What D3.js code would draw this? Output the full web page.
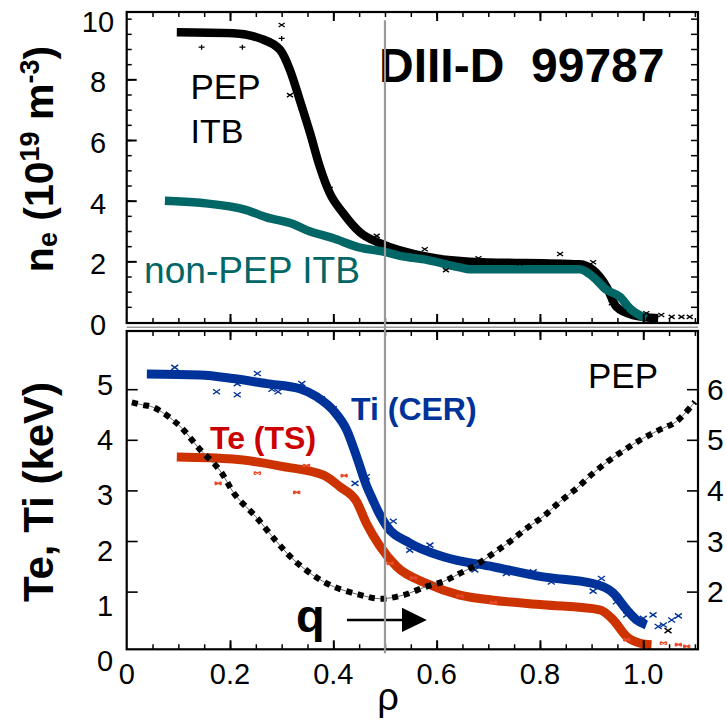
<!DOCTYPE html>
<html><head><meta charset="utf-8">
<script src="https://cdn.jsdelivr.net/npm/d3@7"></script>
<style>
html,body{margin:0;padding:0;background:#fff;}
text{font-family:"Liberation Sans",Arial,sans-serif;}
</style></head>
<body><div id="chart"></div>
<script>
// ---------- DATA ----------
// top panel: electron density n_e (10^19 m^-3) vs rho
const pepRho  = [0.097,0.206,0.258,0.297,0.316,0.335,0.355,0.374,0.393,0.419,0.452,0.49,0.581,0.664,0.877,0.903,0.929,0.948,0.98,1.029];
const pepNe   = [9.55,9.52,9.35,8.97,8.31,7.32,6.23,5.11,4.25,3.59,2.95,2.6,2.15,1.99,1.9,1.71,1.16,0.5,0.23,0.12];
const nonRho  = [0.074,0.142,0.232,0.271,0.322,0.348,0.4,0.452,0.497,0.529,0.581,0.645,0.664,0.877,0.903,0.929,0.955,0.974,1.006];
const nonNe   = [4.0,3.93,3.69,3.45,3.23,3.03,2.76,2.45,2.32,2.18,2.05,1.8,1.74,1.74,1.49,1.06,0.83,0.45,0.12];
const neXRho  = [0.3,0.316,0.393,0.484,0.577,0.618,0.681,0.761,0.839,0.903,0.939,0.961,1.006,1.035,1.055,1.074,1.09];
const neXVal  = [9.79,7.48,4.39,2.84,2.4,1.71,2.1,1.93,2.24,1.97,0.62,0.34,0.29,0.23,0.17,0.17,0.17];
const nePRho  = [0.145,0.224,0.3];
const nePVal  = [9.06,9.06,9.35];

// bottom panel: Ti (CER), Te (TS) in keV, q on right axis
const tiRho = [0.039,0.142,0.206,0.271,0.335,0.368,0.4,0.426,0.445,0.464,0.477,0.49,0.503,0.548,0.613,0.71,0.806,0.903,0.942,0.968,0.987,1.006];
const tiVal = [5.3,5.28,5.21,5.11,5.01,4.85,4.58,4.19,3.67,3.1,2.8,2.52,2.3,1.96,1.69,1.49,1.29,1.16,0.97,0.64,0.44,0.34];
const teRho = [0.097,0.206,0.303,0.381,0.413,0.445,0.464,0.49,0.523,0.581,0.645,0.71,0.806,0.916,0.942,0.968,0.994,1.016];
const teVal = [3.66,3.62,3.47,3.3,3.07,2.78,2.35,1.9,1.49,1.16,0.93,0.83,0.74,0.64,0.44,0.11,-0.02,-0.05];
const tiPtRho = [0.093,0.174,0.214,0.214,0.253,0.281,0.293,0.339,0.377,0.4,0.445,0.442,0.464,0.516,0.548,0.587,0.674,0.735,0.787,0.822,0.903,0.919,0.948,0.968,1.0,1.019,1.029,1.039,1.055,1.068];
const tiPtVal = [5.43,4.95,5.11,4.89,5.31,5.0,4.95,5.11,4.81,4.61,3.66,3.14,3.27,2.39,1.82,1.92,1.43,1.36,1.39,1.19,1.01,1.26,0.80,0.54,0.47,0.54,0.31,0.34,0.44,0.52];
const tePtRho = [0.177,0.253,0.329,0.348,0.421,0.51,0.555,0.645,0.71,0.968,1.039,1.068,1.084];
const tePtVal = [3.14,3.34,2.96,3.49,3.29,1.56,1.27,0.91,0.78,0.05,-0.02,-0.05,-0.08];
const blkPtRho = [1.048];
const blkPtVal = [0.23];
const qRho = [0.01,0.03,0.052,0.1,0.14,0.18,0.21,0.25,0.29,0.32,0.36,0.4,0.45,0.49,0.535,0.58,0.613,0.645,0.677,0.71,0.742,0.774,0.806,0.839,0.871,0.903,0.935,0.968,1.0,1.032,1.064,1.1];
const qVal = [5.74,5.69,5.64,5.3,4.83,4.4,3.91,3.48,2.99,2.66,2.33,2.1,1.94,1.86,1.93,2.1,2.2,2.36,2.53,2.76,2.99,3.25,3.48,3.78,4.04,4.34,4.6,4.83,5.03,5.2,5.36,5.75];

const xTickLabels = ["0","0.2","0.4","0.6","0.8","1.0"];
const xTickVals   = [0,0.2,0.4,0.6,0.8,1.0];
const neTickVals  = [0,2,4,6,8,10];
const tTickVals   = [0,1,2,3,4,5];
const qTickVals   = [2,3,4,5,6];

// ---------- SCALES ----------
const W=727,H=721;
const x  = d3.scaleLinear([0,1.106],[126.7,698]);
const yN = d3.scaleLinear([-0.033,10.22],[323,12]);
const yT = d3.scaleLinear([-0.14,6.15],[649.3,331]);
const yQ = d3.scaleLinear([0.86,7.15],[649.3,331]);
const yTlab = d3.scaleLinear([0,5],[661,385]);

const svg = d3.select("#chart").append("svg").attr("width",W).attr("height",H);

const zip = (a,b)=>a.map((v,i)=>[v,b[i]]);
const cTi="#003399", cTe="#cc3300", cTeal="#006666", cTeTxt="#cc0000", cTeMk="#e84a2a";

// ---------- TOP PANEL ----------
const lineN = d3.line().x(d=>x(d[0])).y(d=>yN(d[1])).curve(d3.curveMonotoneX);
svg.append("path").attr("d",lineN(zip(pepRho,pepNe))).attr("fill","none").attr("stroke","#000").attr("stroke-width",8.5).attr("stroke-linejoin","round");
svg.append("path").attr("d",lineN(zip(nonRho,nonNe))).attr("fill","none").attr("stroke",cTeal).attr("stroke-width",8.5).attr("stroke-linejoin","round");

const plusMark = "M-3,0L3,0M0,-2.5L0,2.5";
svg.append("g").selectAll("path").data(zip(neXRho,neXVal)).join("path")
  .attr("transform",d=>`translate(${x(d[0])},${yN(d[1])})`).attr("d","M-3,-2L3,2M-3,2L3,-2").attr("stroke","#000").attr("stroke-width",1.3);
svg.append("g").selectAll("path").data(zip(nePRho,nePVal)).join("path")
  .attr("transform",d=>`translate(${x(d[0])},${yN(d[1])})`).attr("d",plusMark).attr("stroke","#000").attr("stroke-width",1.3);

// ---------- BOTTOM PANEL ----------
const lineT = d3.line().x(d=>x(d[0])).y(d=>yT(d[1])).curve(d3.curveMonotoneX);
svg.append("path").attr("d",lineT(zip(tiRho,tiVal))).attr("fill","none").attr("stroke",cTi).attr("stroke-width",9).attr("stroke-linejoin","round");
svg.append("path").attr("d",lineT(zip(teRho,teVal))).attr("fill","none").attr("stroke",cTe).attr("stroke-width",9).attr("stroke-linejoin","round");

svg.append("g").selectAll("path").data(zip(tiPtRho,tiPtVal)).join("path")
  .attr("transform",d=>`translate(${x(d[0])},${yT(d[1])})`).attr("d","M-3.5,-2.5L3.5,2.5M-3.5,2.5L3.5,-2.5").attr("stroke",cTi).attr("stroke-width",1.4);
svg.append("g").selectAll("path").data(zip(tePtRho,tePtVal)).join("path")
  .attr("transform",d=>`translate(${x(d[0])},${yT(d[1])})`).attr("d","M-3,-1.5L3,1.5M-3,1.5L3,-1.5M-3,-1.5L-3,1.5M3,-1.5L3,1.5").attr("stroke",cTeMk).attr("stroke-width",1.4);
svg.append("g").selectAll("path").data(zip(blkPtRho,blkPtVal)).join("path")
  .attr("transform",d=>`translate(${x(d[0])},${yT(d[1])})`).attr("d","M-3.5,-2.5L3.5,2.5M-3.5,2.5L3.5,-2.5").attr("stroke","#000").attr("stroke-width",1.4);

const lineQ = d3.line().x(d=>x(d[0])).y(d=>yQ(d[1])).curve(d3.curveCatmullRom);
const qd = lineQ(zip(qRho,qVal));
svg.append("path").attr("d",qd).attr("fill","none").attr("stroke","#666").attr("stroke-width",1);
svg.append("path").attr("d",qd).attr("fill","none").attr("stroke","#000").attr("stroke-width",6).attr("stroke-dasharray","6,5.7");

// ---------- FRAMES & AXES ----------
function frame(y0,y1){
  svg.append("rect").attr("x",x(0)).attr("y",y0).attr("width",x(1.106)-x(0)).attr("height",y1-y0)
    .attr("fill","none").attr("stroke","#000").attr("stroke-width",2.2);
}
frame(yN.range()[1],yN.range()[0]);
frame(yT.range()[1],yT.range()[0]);
svg.append("line").attr("x1",x(0)).attr("x2",x(1.106)).attr("y1",327.3).attr("y2",327.3).attr("stroke","#999").attr("stroke-width",1.6);

const minorX = d3.range(1,23).map(i=>+(i*0.05).toFixed(2)).filter(v=>v<=1.1);
const majorX = [0.2,0.4,0.6,0.8,1.0];
function styleAxis(g,w){ g.select(".domain").remove(); g.selectAll("line").attr("stroke","#000").attr("stroke-width",w); }
function xTicks(yPos, gen){
  svg.append("g").attr("transform",`translate(0,${yPos})`).call(gen(x).tickValues(minorX).tickSize(5).tickFormat("")).call(g=>styleAxis(g,1.5));
  svg.append("g").attr("transform",`translate(0,${yPos})`).call(gen(x).tickValues(majorX).tickSize(9).tickFormat("")).call(g=>styleAxis(g,2));
}
xTicks(yN.range()[0], d3.axisTop);
xTicks(yN.range()[1], d3.axisBottom);
xTicks(yT.range()[0], d3.axisTop);
xTicks(yT.range()[1], d3.axisBottom);

const neMinor = d3.range(1,21).map(i=>i*0.5);
svg.append("g").attr("transform",`translate(${x(0)},0)`).call(d3.axisRight(yN).tickValues(neMinor).tickSize(5).tickFormat("")).call(g=>styleAxis(g,1.5));
svg.append("g").attr("transform",`translate(${x(0)},0)`).call(d3.axisRight(yN).tickValues([2,4,6,8]).tickSize(10).tickFormat("")).call(g=>styleAxis(g,2));
svg.append("g").attr("transform",`translate(${x(1.106)},0)`).call(d3.axisLeft(yN).tickValues(neMinor).tickSize(7).tickFormat("")).call(g=>styleAxis(g,1.5));
svg.append("g").attr("transform",`translate(${x(0)},0)`).call(d3.axisRight(yT).tickValues([1,2,3,4,5]).tickSize(11).tickFormat("")).call(g=>styleAxis(g,1.6));
svg.append("g").attr("transform",`translate(${x(1.106)},0)`).call(d3.axisLeft(yQ).tickValues(qTickVals).tickSize(11).tickFormat("")).call(g=>styleAxis(g,1.6));

// tick labels
const lab = svg.append("g").attr("font-size",29).attr("fill","#000");
lab.selectAll(".ne").data(neTickVals).join("text").attr("x",98).attr("y",d=>yN(d)+3)
  .attr("text-anchor","middle").attr("dominant-baseline","central").text(d=>d);
lab.selectAll(".tt").data(tTickVals).join("text").attr("x",105).attr("y",d=>yTlab(d))
  .attr("text-anchor","middle").attr("dominant-baseline","central").text(d=>d);
lab.selectAll(".xx").data(xTickVals).join("text").attr("x",d=>x(d)).attr("y",684)
  .attr("text-anchor","middle").text((d,i)=>xTickLabels[i]);
lab.selectAll(".qq").data(qTickVals).join("text").attr("x",707).attr("y",d=>yQ(d))
  .attr("dominant-baseline","central").attr("font-size",30).text(d=>d);

// axis titles
const t1 = svg.append("text").attr("transform","translate(53,159) rotate(-90)").attr("text-anchor","middle")
  .attr("font-size",41).attr("font-weight","bold");
t1.append("tspan").text("n");
t1.append("tspan").attr("font-size",27).attr("dy",4).text("e");
t1.append("tspan").attr("dy",-4).text(" (10");
t1.append("tspan").attr("font-size",27).attr("dy",-14).text("19");
t1.append("tspan").attr("dy",14).text(" m");
t1.append("tspan").attr("font-size",27).attr("dy",-14).text("-3");
t1.append("tspan").attr("dy",14).text(")");

svg.append("text").attr("transform","translate(53,492) rotate(-90)").attr("text-anchor","middle")
  .attr("font-size",42).attr("font-weight","bold").text("Te, Ti (keV)");

svg.append("text").attr("x",388).attr("y",710).attr("text-anchor","middle").attr("font-size",38).text("ρ");

// annotations
svg.append("text").attr("x",379).attr("y",81.7).attr("font-size",48).attr("font-weight","bold")
  .style("white-space","pre").text("DIII-D  99787");
svg.append("text").attr("x",190.5).attr("y",99).attr("font-size",35).text("PEP");
svg.append("text").attr("x",190.5).attr("y",143.3).attr("font-size",34).text("ITB");
svg.append("text").attr("x",144).attr("y",283.3).attr("font-size",37).attr("fill",cTeal)
  .attr("textLength",216).attr("lengthAdjust","spacingAndGlyphs").text("non-PEP ITB");
svg.append("text").attr("x",351).attr("y",420).attr("font-size",32).attr("font-weight","bold").attr("fill",cTi).text("Ti (CER)");
svg.append("text").attr("x",210).attr("y",448.5).attr("font-size",32).attr("font-weight","bold").attr("fill",cTeTxt).text("Te (TS)");
svg.append("text").attr("x",588).attr("y",388).attr("font-size",35).text("PEP");
svg.append("text").attr("x",296).attr("y",632).attr("font-size",47).attr("font-weight","bold").text("q");

// arrow (in data coordinates)
svg.append("line").attr("x1",x(0.4264)).attr("x2",x(0.535)).attr("y1",yT(0.44)).attr("y2",yT(0.44)).attr("stroke","#000").attr("stroke-width",2.5);
svg.append("path").attr("d",`M${x(0.533)},${yT(0.68)}L${x(0.581)},${yT(0.44)}L${x(0.533)},${yT(0.2)}Z`).attr("fill","#000");

// gray rho=0.5 marker line (on top)
svg.append("line").attr("x1",x(0.5)).attr("x2",x(0.5)).attr("y1",yN(9.95)).attr("y2",yT(-0.22)).attr("stroke","#999").attr("stroke-width",2.2);
</script></body></html>
